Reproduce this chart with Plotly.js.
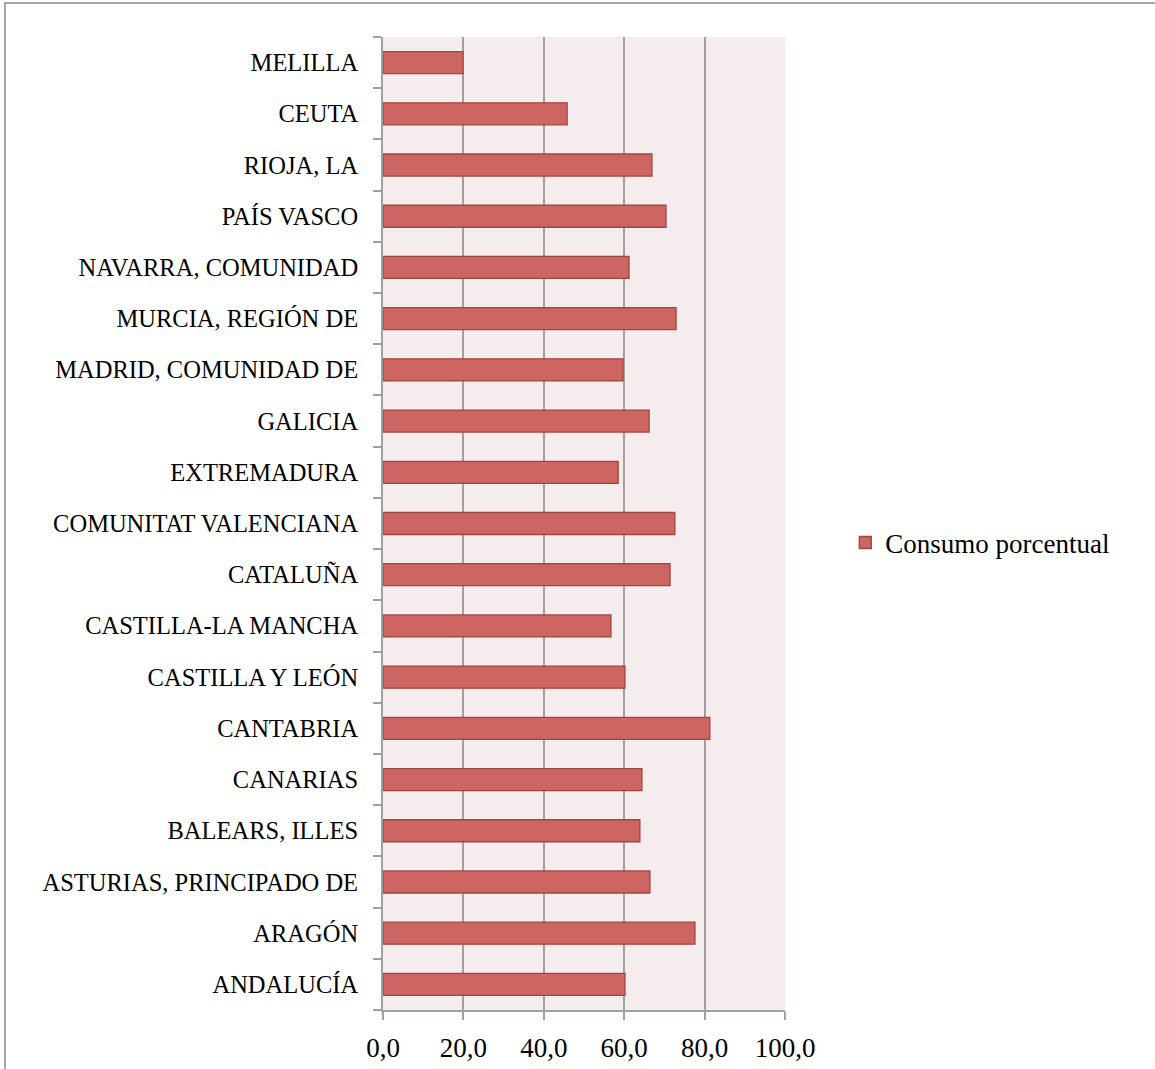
<!DOCTYPE html>
<html>
<head>
<meta charset="utf-8">
<script src="https://cdn.plot.ly/plotly-3.0.1.min.js"></script>
<style>
html,body{margin:0;padding:0;background:#fff;}
#frame{position:absolute;left:4px;top:2px;width:1160px;height:1080px;border-left:2px solid #a6a6a6;border-top:2px solid #a6a6a6;pointer-events:none;z-index:5;}
#chart{width:1155px;height:1069px;}
</style>
</head>
<body>
<div id="frame"></div>
<div id="chart"></div>
<script>
const regions = ["ANDALUCÍA","ARAGÓN","ASTURIAS, PRINCIPADO DE","BALEARS, ILLES","CANARIAS","CANTABRIA","CASTILLA Y LEÓN","CASTILLA-LA MANCHA","CATALUÑA","COMUNITAT VALENCIANA","EXTREMADURA","GALICIA","MADRID, COMUNIDAD DE","MURCIA, REGIÓN DE","NAVARRA, COMUNIDAD","PAÍS VASCO","RIOJA, LA","CEUTA","MELILLA"];
const consumo = [60.2,77.6,66.4,63.9,64.4,81.3,60.2,56.7,71.4,72.6,58.5,66.2,59.7,72.9,61.2,70.4,66.9,45.8,19.9];
const xTicks = [0,20,40,60,80,100];
const xTickText = ["0,0","20,0","40,0","60,0","80,0","100,0"];
const seriesName = "Consumo porcentual";

const fam = "Liberation Serif, Cambria, serif";
const yFont = {family:fam, size:24.5, color:"#000"};
const xFont = {family:fam, size:27, color:"#000"};
const legendFont = {family:fam, size:27, color:"#000"};

Plotly.newPlot("chart",[{
  type:"bar", orientation:"h", y:regions, x:consumo, name:seriesName,
  marker:{color:"#cd6662", line:{color:"#a04542", width:1.3}},
  width:0.43, showlegend:true, hoverinfo:"x+y"
}],{
  width:1155, height:1069,
  margin:{l:383, r:370, t:37, b:59, pad:0},
  paper_bgcolor:"#ffffff", plot_bgcolor:"#f5eded",
  font:yFont,
  showlegend:true,
  legend:{x:1.15, xanchor:"left", y:0.48, yanchor:"middle", font:legendFont, bgcolor:"rgba(0,0,0,0)", itemwidth:30},
  xaxis:{range:[0,100], tickvals:xTicks, ticktext:xTickText, showgrid:true, gridcolor:"#a0a0a0", gridwidth:2,
    zeroline:false, showline:true, linecolor:"#a0a0a0", linewidth:2, ticks:"outside", ticklen:8, tickcolor:"#a0a0a0", tickwidth:2, tickfont:xFont, ticklabelstandoff:5, fixedrange:true},
  yaxis:{type:"category", showgrid:false, zeroline:false, showline:true, linecolor:"#a0a0a0", linewidth:2,
    ticks:"outside", tickson:"boundaries", ticklen:8, tickcolor:"#a0a0a0", tickwidth:2, tickfont:yFont, ticklabelstandoff:18, fixedrange:true}
},{displayModeBar:false, staticPlot:true});
</script>
</body>
</html>
